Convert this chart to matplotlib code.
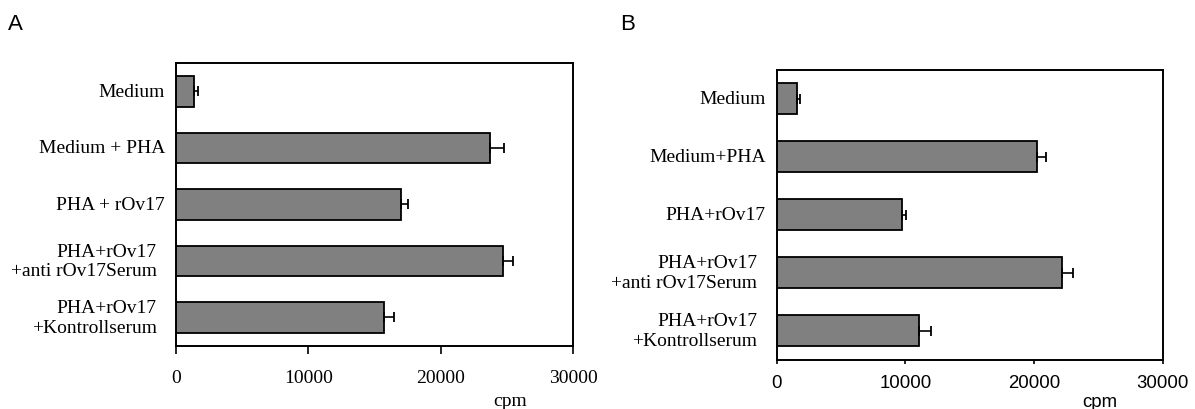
#coding:utf-8
import numpy as np
import matplotlib
matplotlib.use("Agg")
import matplotlib.pyplot as plt

# Proliferation (cpm), two experiments
labels_a = ["Medium", "Medium + PHA", "PHA + rOv17",
            "PHA+rOv17\n+anti rOv17Serum", "PHA+rOv17\n+Kontrollserum"]
labels_b = ["Medium", "Medium+PHA", "PHA+rOv17",
            "PHA+rOv17\n+anti rOv17Serum", "PHA+rOv17\n+Kontrollserum"]
cpm_a = [1360, 23750, 17000, 24700, 15700]
err_a = [280, 1060, 550, 800, 760]
cpm_b = [1550, 20200, 9700, 22170, 11060]
err_b = [260, 700, 370, 880, 930]
xticks = [0, 10000, 20000, 30000]

SERIF = "Liberation Serif"
SANS = "Liberation Sans"


def panel(ax, labels, values, errors, tickfont, ticksize, ticklen, tickpad):
    pos = np.arange(len(labels))
    ax.barh(pos, values, height=0.54, color="#808080", edgecolor="black",
            linewidth=1.3, zorder=2)
    # only the upper half of the error bar is shown
    ax.errorbar(values, pos, xerr=[np.zeros(len(errors)), errors], fmt="none",
                ecolor="black", elinewidth=1.2, capsize=3.6, capthick=1.3, zorder=3)
    ax.set_xlim(0, 30000)
    ax.set_ylim(len(labels) - 0.5, -0.5)
    ax.set_xticks(xticks)
    ax.set_xticklabels([str(t) for t in xticks], fontfamily=tickfont, fontsize=ticksize)
    ax.tick_params(axis="x", direction="out", length=ticklen, width=1.2, pad=tickpad)
    ax.set_yticks([])
    for s in ax.spines.values():
        s.set_linewidth(1.4)
    for i, lab in enumerate(labels):
        off = -8 if "\n" not in lab else -14
        ax.annotate(lab, xy=(0, i), xycoords=("axes fraction", "data"),
                    xytext=(off, 0), textcoords="offset points",
                    ha="right", va="center", multialignment="right",
                    fontfamily=SERIF, fontsize=14, linespacing=1.2)


fig = plt.figure(figsize=(11.95, 4.10), dpi=100)
ax_a = fig.add_axes([0.14728, 0.15439, 0.33222, 0.68951])
ax_b = fig.add_axes([0.64996, 0.12024, 0.32301, 0.70732])

panel(ax_a, labels_a, cpm_a, err_a, SERIF, 14, 6, 11)
panel(ax_b, labels_b, cpm_b, err_b, SANS, 13.4, 3, 7)

fig.text(510 / 1195, 1 - 401.7 / 410, "cpm", ha="center", va="center",
         fontfamily=SERIF, fontsize=14)
fig.text(1100 / 1195, 1 - 403 / 410, "cpm", ha="center", va="center",
         fontfamily=SANS, fontsize=13.4)

fig.text(15 / 1195, 1 - 24 / 410, "A", ha="center", va="center",
         fontfamily=SANS, fontsize=16)
fig.text(628 / 1195, 1 - 24 / 410, "B", ha="center", va="center",
         fontfamily=SANS, fontsize=16)

plt.savefig("out.png", dpi=100)
